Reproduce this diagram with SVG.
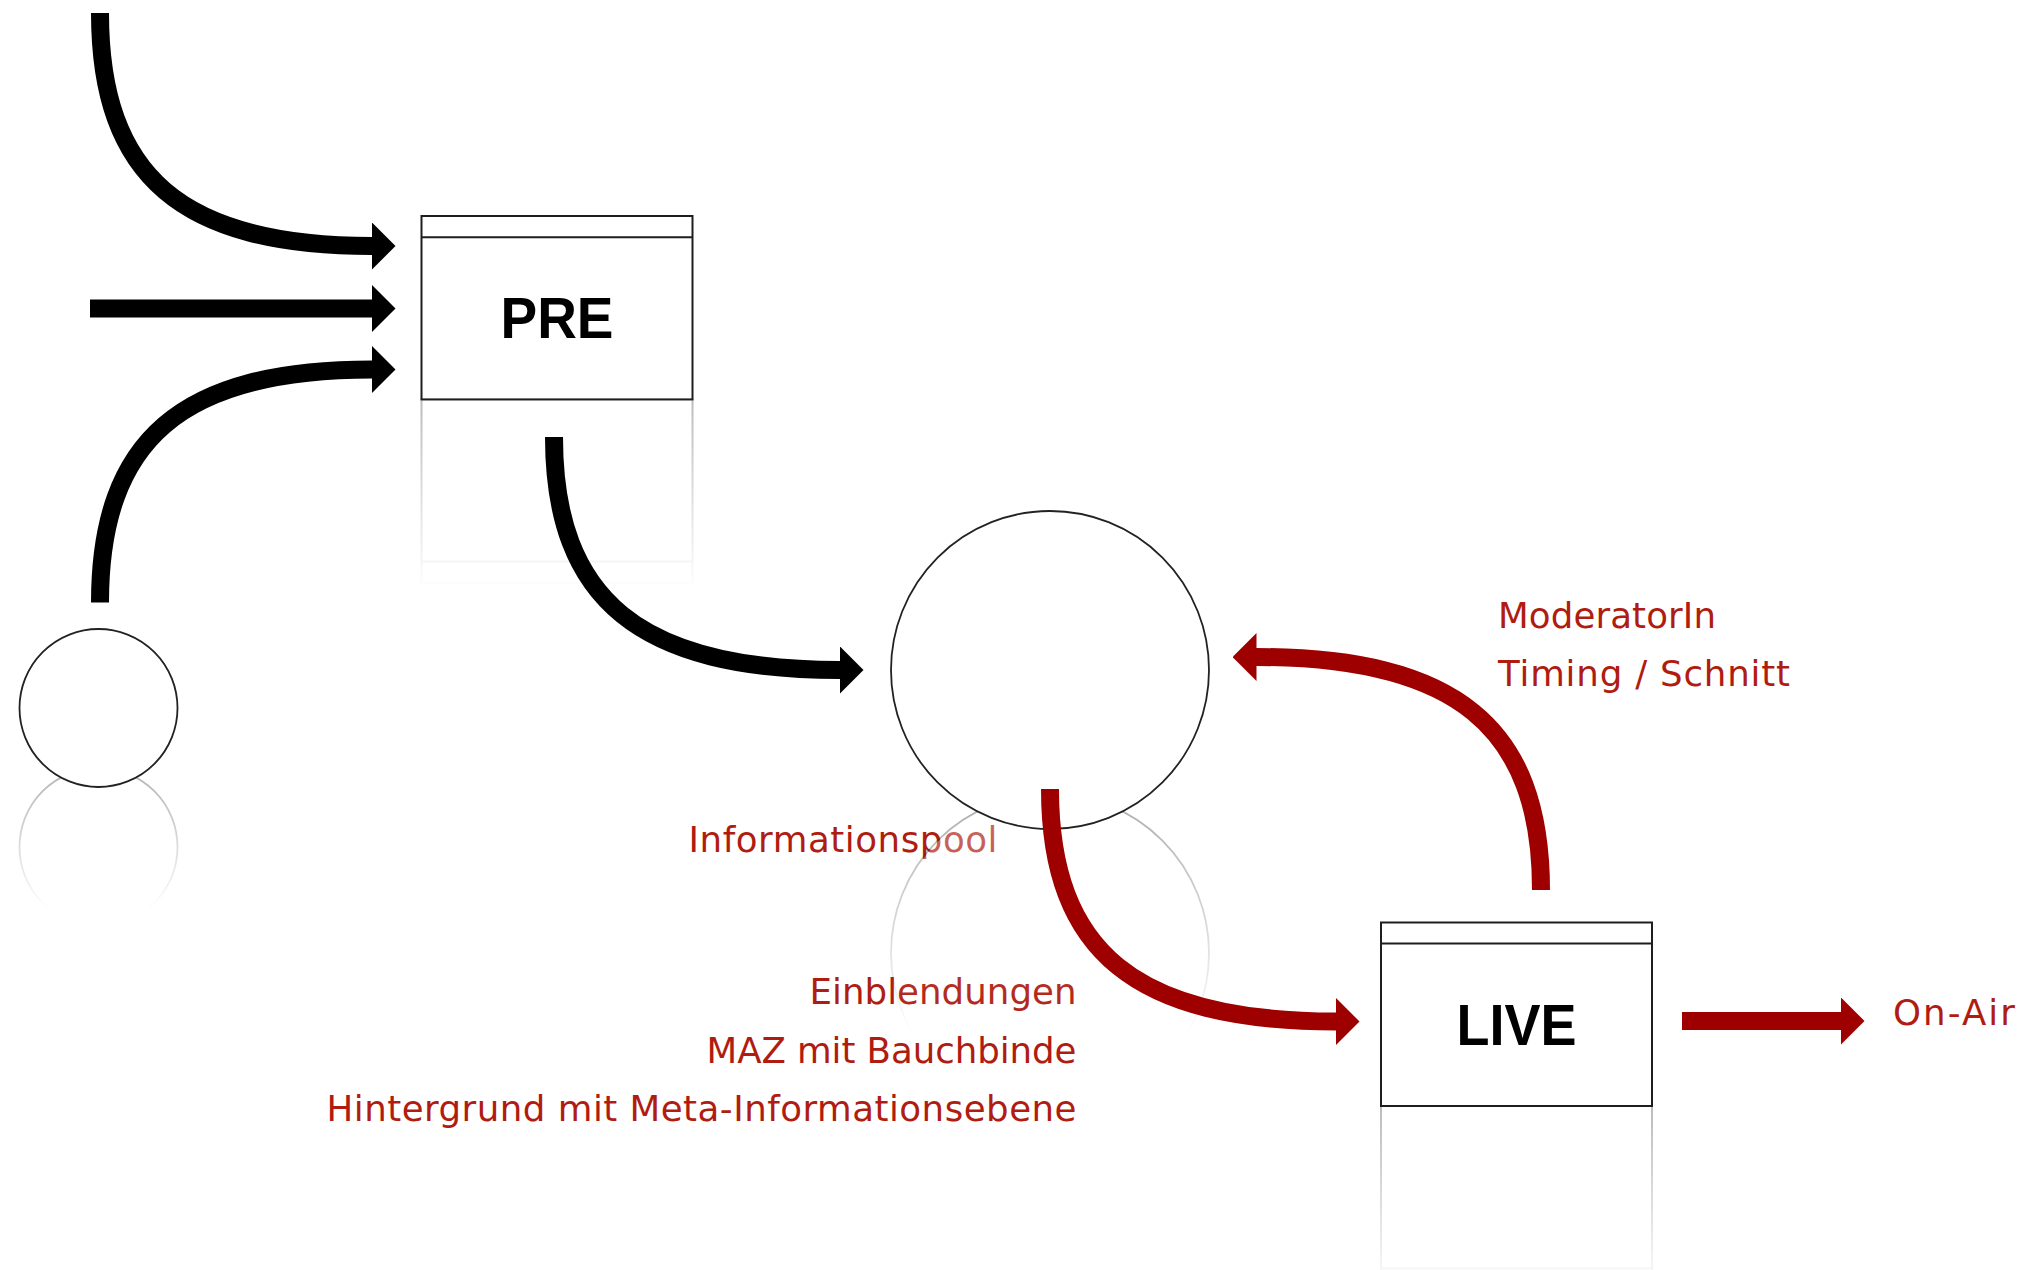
<svg xmlns="http://www.w3.org/2000/svg" width="2033" height="1270" viewBox="0 0 2033 1270">
  <style>
    .lbl { font-family: "DejaVu Sans", "Noto Sans", sans-serif; font-size: 35.6px; fill: #b01c10; }
    .title { font-family: "Liberation Sans", Arial, sans-serif; font-weight: bold; font-size: 57px; fill: #000; text-anchor: middle; }
    .box { fill: #fff; stroke: #1e1e1e; stroke-width: 2; }
    .hdr { stroke: #1e1e1e; stroke-width: 2; }
    .circ { fill: #fff; stroke: #222; stroke-width: 1.8; }
    .refl { fill: #fff; stroke: #222; stroke-width: 1.8; }
    .blk { fill: none; stroke: #000; stroke-width: 18; marker-end: url(#headBlack); }
    .red { fill: none; stroke: #9e0000; stroke-width: 18; marker-end: url(#headRed); }
  </style>
  <defs>
    <marker id="headBlack" markerUnits="userSpaceOnUse" markerWidth="24" markerHeight="48" viewBox="0 0 24 48" refX="0.5" refY="24" orient="auto">
      <path d="M0,0 L24,24 L0,48 Z" fill="#000"/>
    </marker>
    <marker id="headRed" markerUnits="userSpaceOnUse" markerWidth="24" markerHeight="48" viewBox="0 0 24 48" refX="0.5" refY="24" orient="auto">
      <path d="M0,0 L24,24 L0,48 Z" fill="#9e0000"/>
    </marker>
    <linearGradient id="gPre" gradientUnits="userSpaceOnUse" x1="0" y1="399.4" x2="0" y2="590">
      <stop offset="0" stop-color="#fff" stop-opacity="0.3"/>
      <stop offset="1" stop-color="#fff" stop-opacity="0"/>
    </linearGradient>
    <linearGradient id="gLive" gradientUnits="userSpaceOnUse" x1="0" y1="1106" x2="0" y2="1296">
      <stop offset="0" stop-color="#fff" stop-opacity="0.3"/>
      <stop offset="1" stop-color="#fff" stop-opacity="0"/>
    </linearGradient>
    <linearGradient id="gSmall" gradientUnits="userSpaceOnUse" x1="0" y1="768" x2="0" y2="910">
      <stop offset="0" stop-color="#fff" stop-opacity="0.35"/>
      <stop offset="1" stop-color="#fff" stop-opacity="0"/>
    </linearGradient>
    <linearGradient id="gPool" gradientUnits="userSpaceOnUse" x1="0" y1="794" x2="0" y2="1035">
      <stop offset="0" stop-color="#fff" stop-opacity="0.38"/>
      <stop offset="1" stop-color="#fff" stop-opacity="0"/>
    </linearGradient>
    <mask id="mPre" maskUnits="userSpaceOnUse" x="400" y="398" width="320" height="210">
      <rect x="400" y="398" width="320" height="210" fill="url(#gPre)"/>
    </mask>
    <mask id="mLive" maskUnits="userSpaceOnUse" x="1360" y="1104" width="320" height="200">
      <rect x="1360" y="1104" width="320" height="200" fill="url(#gLive)"/>
    </mask>
    <mask id="mSmall" maskUnits="userSpaceOnUse" x="0" y="760" width="200" height="160">
      <rect x="0" y="760" width="200" height="160" fill="url(#gSmall)"/>
    </mask>
    <mask id="mPool" maskUnits="userSpaceOnUse" x="870" y="785" width="360" height="260">
      <rect x="870" y="785" width="360" height="260" fill="url(#gPool)"/>
    </mask>
  </defs>

  <rect x="0" y="0" width="2033" height="1270" fill="#fff"/>

  <g id="labels">
    <text id="lbl-moderator" class="lbl" x="1498" y="628.3" textLength="218" lengthAdjust="spacing">ModeratorIn</text>
    <text id="lbl-timing" class="lbl" x="1498" y="686" textLength="292" lengthAdjust="spacing">Timing / Schnitt</text>
    <text id="lbl-pool" class="lbl" x="688.5" y="851.7" textLength="309" lengthAdjust="spacing">Informationspool</text>
    <text id="lbl-einbl" class="lbl" x="1076.5" y="1004" text-anchor="end" textLength="267" lengthAdjust="spacing">Einblendungen</text>
    <text id="lbl-maz" class="lbl" x="1076.5" y="1062.5" text-anchor="end" textLength="370" lengthAdjust="spacing">MAZ mit Bauchbinde</text>
    <text id="lbl-hinter" class="lbl" x="1076.5" y="1121" text-anchor="end" textLength="750" lengthAdjust="spacing">Hintergrund mit Meta-Informationsebene</text>
    <text id="lbl-onair" class="lbl" x="1893" y="1025" textLength="122" lengthAdjust="spacing">On-Air</text>
  </g>

  <g id="node-source">
    <g mask="url(#mSmall)">
      <circle class="refl" cx="98.5" cy="847" r="79"/>
    </g>
    <circle class="circ" cx="98.5" cy="708" r="79"/>
  </g>

  <g id="node-pre">
    <g mask="url(#mPre)">
      <rect class="box" x="421.5" y="399.4" width="271" height="183.4"/>
      <line class="hdr" x1="421.5" y1="561.6" x2="692.5" y2="561.6"/>
    </g>
    <rect class="box" x="421.5" y="216" width="271" height="183.4"/>
    <line class="hdr" x1="421.5" y1="237.2" x2="692.5" y2="237.2"/>
    <text class="title" x="557" y="338" textLength="113" lengthAdjust="spacingAndGlyphs">PRE</text>
  </g>

  <g id="node-pool">
    <g mask="url(#mPool)">
      <circle class="refl" cx="1050" cy="953" r="159"/>
    </g>
    <circle class="circ" cx="1050" cy="670" r="159"/>
  </g>

  <g id="node-live">
    <g mask="url(#mLive)">
      <rect class="box" x="1381" y="1106" width="271" height="183.5"/>
      <line class="hdr" x1="1381" y1="1268.5" x2="1652" y2="1268.5"/>
    </g>
    <rect class="box" x="1381" y="922.5" width="271" height="183.5"/>
    <line class="hdr" x1="1381" y1="943.5" x2="1652" y2="943.5"/>
    <text class="title" x="1516.5" y="1045" textLength="120" lengthAdjust="spacingAndGlyphs">LIVE</text>
  </g>

  <g id="connectors">
    <path class="blk" d="M100,13 C100,176 181.6,246 372,246"/>
    <path class="blk" d="M90,308.5 L372,308.5"/>
    <path class="blk" d="M100,602.6 C100,439.5 181.6,369.5 372,369.5"/>
    <path class="blk" d="M554,437 C554,600 640,670 840,670"/>
    <path class="red" d="M1050,789 C1050,952 1136,1021.5 1336,1021.5"/>
    <path class="red" d="M1541,890 C1541,727 1456,657 1256,657"/>
    <path class="red" d="M1682,1021 L1841,1021"/>
  </g>
</svg>
